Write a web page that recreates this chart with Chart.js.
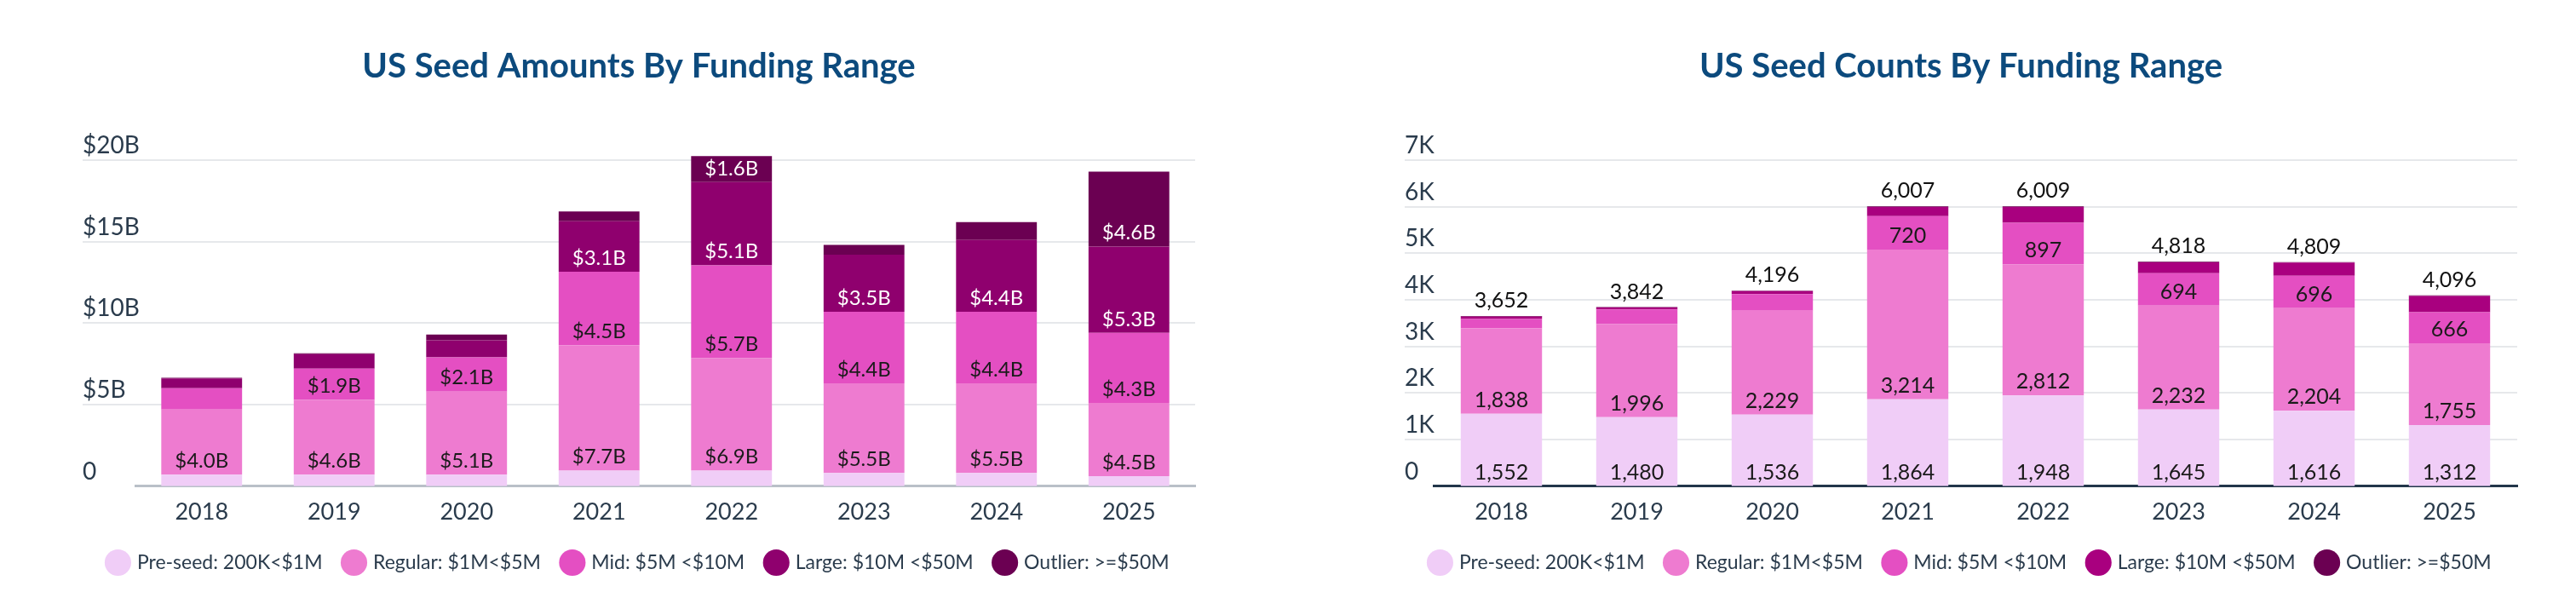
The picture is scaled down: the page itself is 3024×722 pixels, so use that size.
<!DOCTYPE html>
<html>
<head>
<meta charset="utf-8">
<script src="https://cdn.jsdelivr.net/npm/chart.js@4.4.0/dist/chart.umd.min.js"></script>
<style>
  html, body { margin: 0; padding: 0; background: #fff; }
  .wrap { position: absolute; top: 0; width: 1512px; height: 722px; }
  #left { left: 0; }
  #right { left: 1512px; }
</style>
</head>
<body>
<div class="wrap" id="left"><canvas id="amounts"></canvas></div>
<div class="wrap" id="right"><canvas id="counts"></canvas></div>
<script>
const years = ["2018", "2019", "2020", "2021", "2022", "2023", "2024", "2025"];
const seriesNames = ["Pre-seed: 200K<$1M", "Regular: $1M<$5M", "Mid: $5M <$10M", "Large: $10M <$50M", "Outlier: >=$50M"];

// amounts, $B
const amtPreseed = [0.7, 0.7, 0.7, 0.95, 0.95, 0.8, 0.8, 0.6];
const amtRegular = [4.0, 4.6, 5.1, 7.7, 6.9, 5.5, 5.5, 4.5];
const amtMid = [1.3, 1.9, 2.1, 4.5, 5.7, 4.4, 4.4, 4.3];
const amtLarge = [0.6, 0.9, 1.05, 3.1, 5.1, 3.5, 4.4, 5.3];
const amtOutlier = [0.05, 0.05, 0.35, 0.6, 1.6, 0.6, 1.1, 4.6];
const amtTicks = ["0", "$5B", "$10B", "$15B", "$20B"];

// deal counts
const cntPreseed = [1552, 1480, 1536, 1864, 1948, 1645, 1616, 1312];
const cntRegular = [1838, 1996, 2229, 3214, 2812, 2232, 2204, 1755];
const cntMid = [200, 317, 360, 720, 897, 694, 696, 666];
const cntLarge = [50, 40, 60, 195, 335, 235, 283, 350];
const cntOutlier = [12, 9, 11, 14, 17, 12, 10, 13];
const cntTicks = ["0", "1K", "2K", "3K", "4K", "5K", "6K", "7K"];

const FONT = "Lato";
const INK = "#2a3b4c";

function makeChart(id, cfg) {
  const sets = cfg.series.map((data, i) => ({
    label: seriesNames[i],
    data: data,
    backgroundColor: cfg.colors[i],
    borderWidth: 0,
    barPercentage: cfg.barPct,
    categoryPercentage: 1,
    clip: false,
  }));

  const labelPlugin = {
    id: "segLabels",
    beforeDatasetsDraw(chart) {
      // gridlines + tick labels sitting above them, starting left of the plot
      const ctx = chart.ctx;
      const y = chart.scales.y;
      ctx.save();
      ctx.strokeStyle = "#e6e8eb";
      ctx.lineWidth = 2;
      ctx.fillStyle = INK;
      ctx.font = "400 28px " + FONT;
      ctx.textAlign = "left";
      ctx.textBaseline = "middle";
      y.ticks.forEach((t, i) => {
        const py = Math.round(y.getPixelForValue(t.value));
        if (t.value !== 0) {
          ctx.beginPath();
          ctx.moveTo(cfg.padLeft, py);
          ctx.lineTo(chart.chartArea.right, py);
          ctx.stroke();
        }
        ctx.fillText(cfg.ticks[i], cfg.padLeft, py - 17);
      });
      ctx.restore();
    },
    afterDatasetsDraw(chart) {
      const ctx = chart.ctx;
      ctx.save();
      ctx.font = "400 " + cfg.labelSize + "px " + FONT;
      ctx.textAlign = "center";
      ctx.textBaseline = "middle";
      chart.data.datasets.forEach((ds, di) => {
        const meta = chart.getDatasetMeta(di);
        meta.data.forEach((el, i) => {
          const v = ds.data[i];
          if (v < cfg.minLabel) return;
          ctx.fillStyle = cfg.labelColors[di];
          ctx.fillText(cfg.fmt(v), el.x, el.base - 16);
        });
      });
      if (cfg.totals) {
        ctx.fillStyle = "#111";
        const last = chart.getDatasetMeta(chart.data.datasets.length - 1);
        last.data.forEach((el, i) => {
          const sum = chart.data.datasets.reduce((s, ds) => s + ds.data[i], 0);
          ctx.fillText(sum.toLocaleString("en-US"), el.x, el.y - 18);
        });
      }
      ctx.restore();
    }
  };

  return new Chart(document.getElementById(id), {
    type: "bar",
    data: { labels: years, datasets: sets },
    plugins: [labelPlugin],
    options: {
      responsive: true,
      maintainAspectRatio: false,
      animation: false,
      layout: { padding: { left: cfg.padLeft, right: cfg.padRight, top: 54, bottom: 40 } },
      plugins: {
        title: {
          display: true,
          text: cfg.title,
          color: "#0c4a7d",
          font: { family: FONT, size: 40, weight: "bold" },
          padding: { top: 0, bottom: 86 },
        },
        legend: {
          position: "bottom",
          labels: {
            usePointStyle: true,
            pointStyle: "circle",
            boxHeight: 22,
            boxWidth: 22,
            padding: 26,
            color: INK,
            font: { family: FONT, size: 23 },
          },
        },
        tooltip: { enabled: false },
      },
      scales: {
        x: {
          stacked: true,
          grid: { display: false },
          border: { color: cfg.axisColor, width: 3 },
          ticks: { color: INK, font: { family: FONT, size: 27 }, padding: 6 },
        },
        y: {
          stacked: true,
          min: 0,
          max: cfg.max,
          grid: { display: false },
          border: { display: false },
          afterFit(scale) { scale.width = cfg.axisWidth; },
          ticks: {
            stepSize: cfg.step,
            display: false,
          },
        },
      },
    },
  });
}

makeChart("amounts", {
  title: "US Seed Amounts By Funding Range",
  series: [amtPreseed, amtRegular, amtMid, amtLarge, amtOutlier],
  colors: ["#f0cdf7", "#ee7bd0", "#e44fc2", "#8f006e", "#6b0052"],
  labelColors: ["#1a1a1a", "#1a1a1a", "#1a1a1a", "#ffffff", "#ffffff"],
  fmt: v => "$" + v.toFixed(1) + "B",
  minLabel: 1.5,
  ticks: amtTicks,
  max: 20, step: 5,
  padLeft: 97, padRight: 109, axisWidth: 62,
  barPct: 0.61, labelSize: 24,
  axisColor: "#b9c0c8", totals: false,
});

makeChart("counts", {
  title: "US Seed Counts By Funding Range",
  series: [cntPreseed, cntRegular, cntMid, cntLarge, cntOutlier],
  colors: ["#f0cdf7", "#ee7bd0", "#e44fc2", "#a9007f", "#6b0052"],
  labelColors: ["#1a1a1a", "#1a1a1a", "#1a1a1a", "#ffffff", "#ffffff"],
  fmt: v => v.toLocaleString("en-US"),
  minLabel: 500,
  ticks: cntTicks,
  max: 7000, step: 1000,
  padLeft: 137, padRight: 69, axisWidth: 34,
  barPct: 0.6, labelSize: 25,
  axisColor: "#22364a", totals: true,
});
</script>
</body>
</html>
